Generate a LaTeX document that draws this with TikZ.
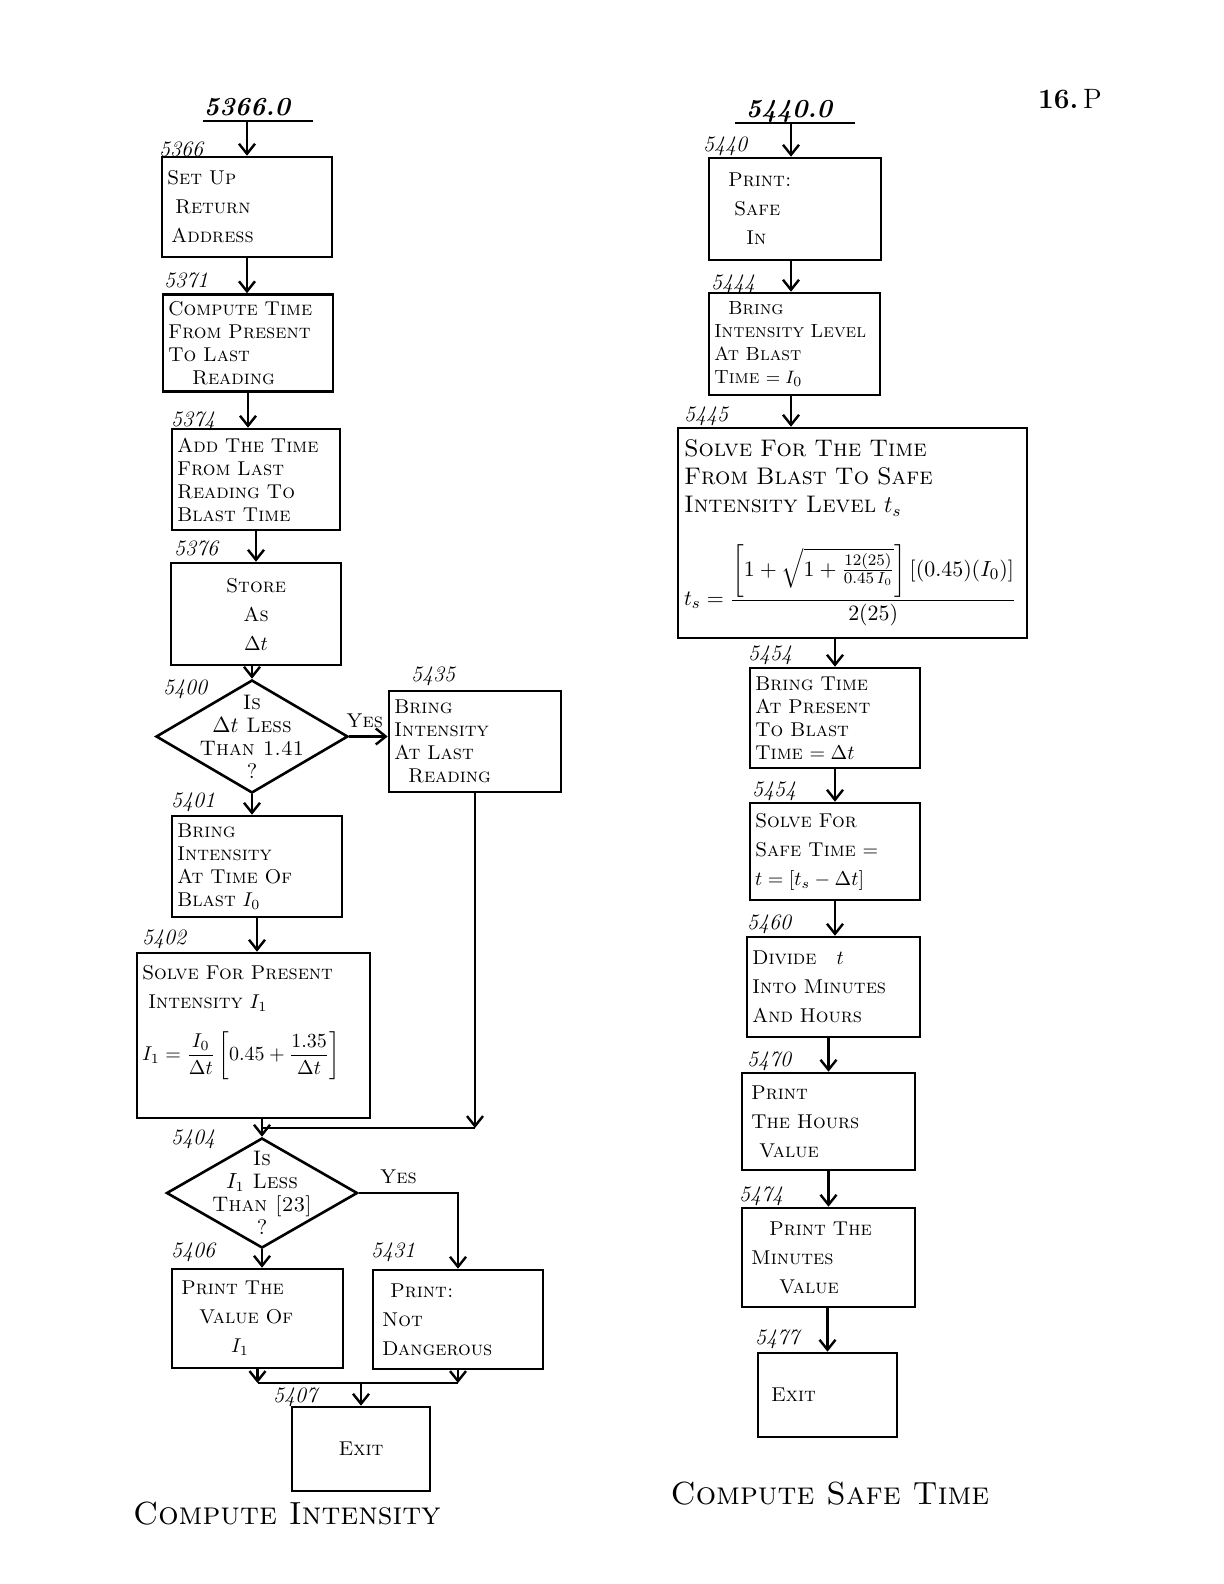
\documentclass[tikz,border=0pt]{standalone}
\usepackage{amsmath,amssymb}
\usetikzlibrary{arrows.meta,positioning,shapes.geometric}
\newcommand{\dlt}{$\Delta t$}

\begin{document}
\begin{tikzpicture}[
		x=0.5pt, y=-0.5pt,
		>={Straight Barb[length=5pt,width=8pt]},
		line width=1.2pt,
		blk/.style={draw, line width=1.3pt, inner xsep=2.5pt, align=left,
			font=\fontsize{10}{14.5}\selectfont\scshape},
		tight/.style={font=\fontsize{10}{11.5}\selectfont\scshape},
		dec/.style={draw, diamond, line width=1.3pt, inner sep=0pt},
		dtext/.style={font=\fontsize{10.5}{11.5}\selectfont\scshape, align=center, inner sep=0pt},
		ref/.style={font=\fontsize{11}{12}\selectfont\itshape, inner sep=1pt},
		entry/.style={font=\fontsize{13}{14}\selectfont\itshape\bfseries},
		yes/.style={font=\fontsize{10}{11}\selectfont\scshape, inner sep=2pt},
		caption/.style={font=\fontsize{16}{18}\selectfont\scshape}
		]
		\useasboundingbox (0,0) rectangle (1224,1584);
		
		\node[font=\fontsize{14}{16}\selectfont] (pg) at (1070,99) {\textbf{16.}\,P};
		
		% --------------------------------------------------
		% Left chart: compute intensity
		% --------------------------------------------------
		\node[entry] (e5366) at (247,107) {5366.0};
		\coordinate (u1a) at (203,121);
		\coordinate (u1b) at (313,121);
		\coordinate (u1) at (247,121);
		\draw (u1a) -- (u1b);
		
		\node[blk, minimum width=85pt, text width=80pt, minimum height=50pt] (b5366) at (247,207) {%
			Set Up\\
			\hspace*{4pt}Return\\
			\hspace*{2pt}Address};
		\node[blk, tight, minimum width=85pt, text width=80pt, minimum height=48.5pt] (b5371) at (248,343) {%
			Compute Time\\
			From Present\\
			To Last\\
			\hspace*{12pt}Reading};
		\node[blk, tight, minimum width=84pt, text width=79pt, minimum height=50.5pt] (b5374) at (256,479.5) {%
			Add The Time\\
			From Last\\
			Reading To\\
			Blast Time};
		\node[blk, align=center, minimum width=85pt, text width=80pt, minimum height=51pt] (b5376) at (256,614) {%
			Store\\
			As\\
			\dlt};
		
		\node[dec, minimum width=96pt, minimum height=56.5pt,
		label={[dtext]center:{Is\\ \dlt\ Less\\ Than 1.41\\ ?}}] (d5400) at (252,736.5) {};
		\node[blk, tight, minimum width=86pt, text width=81pt, minimum height=50.5pt] (b5435) at (475,741.5) {%
			Bring\\
			Intensity\\
			At Last\\
			\hspace*{7pt}Reading};
		
		\node[blk, tight, minimum width=85pt, text width=80pt, minimum height=50.5pt] (b5401) at (257,866.5) {%
			Bring\\
			Intensity\\
			At Time Of\\
			Blast $I_0$};
		\node[blk, minimum width=116.5pt, text width=111.5pt, minimum height=82.5pt] (b5402) at (253.5,1035.5) {%
			Solve For Present\\
			\hspace*{3pt}Intensity $I_1$\\[9pt]
			\mbox{$I_1=\dfrac{I_0}{\Delta t}\left[0.45+\dfrac{1.35}{\Delta t}\right]$}\\[8pt]
			\mbox{}};
		
		\coordinate (jL) at (262,1128);
		\coordinate (jR) at (475,1128);
		
		\node[dec, minimum width=95.5pt, minimum height=55pt,
		label={[dtext]center:{Is\\ $I_1$ Less\\ Than [23]\\ ?}}] (d5404) at (262,1193) {};
		
		\node[blk, minimum width=85.5pt, text width=80.5pt, minimum height=49.5pt] (b5406) at (257.5,1318.5) {%
			\hspace*{2pt}Print The\\
			\hspace*{11pt}Value Of\\
			\hspace*{27pt}$I_1$};
		\node[blk, minimum width=85pt, text width=80pt, minimum height=49.5pt] (b5431) at (458,1319.5) {%
			\hspace*{6pt}Print:\\
			\hspace*{2pt}Not\\
			\hspace*{2pt}Dangerous};
		
		\coordinate (m1) at (361,1383);
		\node[blk, align=center, minimum width=69pt, text width=64pt, minimum height=42pt] (b5407) at (361,1449) {Exit};
		
		\node[caption] (c1) at (287,1514) {Compute Intensity};
		
		% reference numbers
		\node[ref] (l5366) at (181,149) {5366};
		\node[ref] (l5371) at (186,280) {5371};
		\node[ref] (l5374) at (193,421) {5374};
		\node[ref] (l5376) at (196,548) {5376};
		\node[ref] (l5400) at (185,689) {5400};
		\node[ref] (l5435) at (433,676) {5435};
		\node[ref] (l5401) at (193,802) {5401};
		\node[ref] (l5402) at (164,939) {5402};
		\node[ref] (l5404) at (193,1139) {5404};
		\node[ref] (l5406) at (193,1252) {5406};
		\node[ref] (l5431) at (393,1252) {5431};
		\node[ref] (l5407) at (295,1397) {5407};
		
		% connectors
		\draw[->] (u1) -- (b5366.north);
		\draw[->] (b5366.south) -- (b5366.south |- b5371.north);
		\draw[->] (b5371.south) -- (b5371.south |- b5374.north);
		\draw[->] (b5374.south) -- (b5374.south |- b5376.north);
		\draw[->] (d5400.north |- b5376.south) -- (d5400.north);
		\draw[->] (d5400.east) -- node[yes, pos=0.4, above=2pt] {Yes} (b5435.west |- d5400.east);
		\draw[->] (d5400.south) -- (d5400.south |- b5401.north);
		\draw[->] (b5401.south) -- (b5401.south |- b5402.north);
		\draw[->] (b5435.south) -- (jR);
		\draw (jL) -- (jR);
		\draw[->] (d5404.north |- b5402.south) -- (d5404.north);
		\draw[->] (d5404.east) -| node[yes, pos=0.2, above=2pt] {Yes} (b5431.north);
		\draw[->] (d5404.south) -- (d5404.south |- b5406.north);
		\draw[->] (b5406.south) -- (b5406.south |- m1);
		\draw[->] (b5431.south) -- (b5431.south |- m1);
		\draw (b5406.south |- m1) -- (b5431.south |- m1);
		\draw[->] (m1) -- (b5407.north);
		
		% --------------------------------------------------
		% Right chart: compute safe time
		% --------------------------------------------------
		\node[entry] (e5440) at (789,111) {5440.0};
		\coordinate (u2a) at (735,123);
		\coordinate (u2b) at (855,123);
		\coordinate (u2) at (791,123);
		\draw (u2a) -- (u2b);
		
		\node[blk, minimum width=86pt, text width=81pt, minimum height=51pt] (b5440) at (795,209) {%
			\hspace*{7pt}Print:\\
			\hspace*{10pt}Safe\\
			\hspace*{16pt}In};
		\node[blk, font=\fontsize{9.5}{11.5}\selectfont\scshape, minimum width=85.5pt, text width=80.5pt, minimum height=51pt] (b5444) at (794.5,344) {%
			\hspace*{7pt}Bring\\
			Intensity Level\\
			At Blast\\
			Time $=I_0$};
		\node[blk, font=\fontsize{12}{14}\selectfont\scshape, inner xsep=3pt, minimum width=174.5pt, text width=168.5pt, minimum height=105pt] (b5445) at (852.5,533) {%
			Solve For The Time\\
			From Blast To Safe\\
			Intensity Level $t_s$\\[13pt]
			\mbox{\fontsize{11}{13}\selectfont$t_s=\dfrac{\left[1+\sqrt{1+\frac{12(25)}{0.45\,I_0}}\right]\left[(0.45)(I_0)\right]}{2(25)}$}};
		\node[blk, tight, minimum width=85pt, text width=80pt, minimum height=50pt] (b5454) at (835,718) {%
			Bring Time\\
			At Present\\
			To Blast\\
			Time $=\Delta t$};
		\node[blk, minimum width=85pt, text width=80pt, minimum height=48.5pt] (b5457) at (835,851.5) {%
			Solve For\\
			Safe Time $=$\\
			\mbox{$t=[t_s-\Delta t]$}};
		\node[blk, minimum width=86.5pt, text width=81.5pt, minimum height=50pt] (b5460) at (833.5,987) {%
			Divide\quad $t$\\
			Into Minutes\\
			And Hours};
		\node[blk, minimum width=86.5pt, text width=81.5pt, minimum height=48.5pt] (b5470) at (828.5,1121.5) {%
			\hspace*{2pt}Print\\
			\hspace*{2pt}The Hours\\
			\hspace*{6pt}Value};
		\node[blk, minimum width=86.5pt, text width=81.5pt, minimum height=49.5pt] (b5474) at (828.5,1257.5) {%
			\hspace*{11pt}Print The\\
			\hspace*{2pt}Minutes\\
			\hspace*{16pt}Value};
		\node[blk, minimum width=69.5pt, text width=64.5pt, minimum height=42pt] (b5477) at (827.5,1395) {%
			\hspace*{4pt}Exit};
		
		\node[caption] (c2) at (830,1494) {Compute Safe Time};
		
		% reference numbers
		\node[ref] (l5440) at (725,146) {5440};
		\node[ref] (l5444) at (733,284) {5444};
		\node[ref] (l5445) at (706,416) {5445};
		\node[ref] (l5454) at (770,655) {5454};
		\node[ref] (l5457) at (774,791) {5454};
		\node[ref] (l5460) at (769,924) {5460};
		\node[ref] (l5470) at (769,1061) {5470};
		\node[ref] (l5474) at (761,1196) {5474};
		\node[ref] (l5477) at (777,1339) {5477};
		
		% connectors
		\draw[->] (u2) -- (u2 |- b5440.north);
		\draw[->] (u2 |- b5440.south) -- (u2 |- b5444.north);
		\draw[->] (u2 |- b5444.south) -- (u2 |- b5445.north);
		\draw[->] (b5454.north |- b5445.south) -- (b5454.north);
		\draw[->] (b5454.south) -- (b5454.south |- b5457.north);
		\draw[->] (b5457.south) -- (b5457.south |- b5460.north);
		\draw[->] (b5470.north |- b5460.south) -- (b5470.north);
		\draw[->] (b5470.south) -- (b5470.south |- b5474.north);
		\draw[->] (b5477.north |- b5474.south) -- (b5477.north);
		
	\end{tikzpicture}
\end{document}
